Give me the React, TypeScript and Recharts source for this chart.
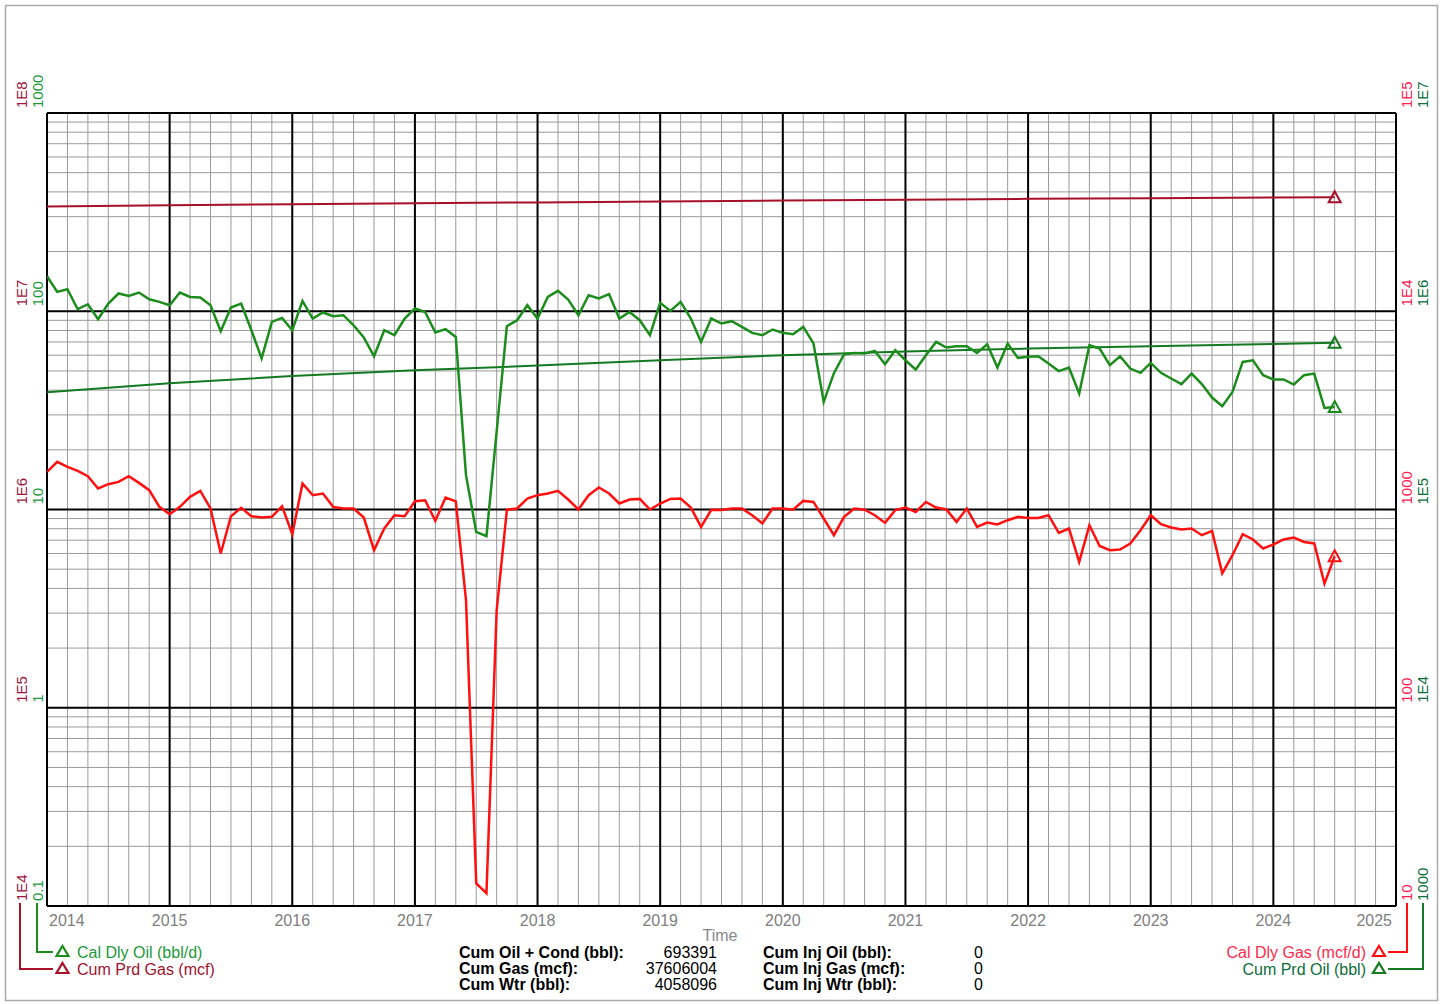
import { LineChart, Line, XAxis, YAxis, CartesianGrid } from "recharts";

// monthly rates, Jan 2014 .. Jul 2024
const oilRate = [
  150.3, 125.2, 129.2, 102.4, 108.5, 91.2, 109.4, 122.9, 119.5, 124.3,
  115.0, 111.5, 107.3, 124.3, 118.1, 117.3, 107.3, 79.3, 104.4, 109.4,
  80.2, 57.8, 88.4, 92.6, 80.2, 112.8, 91.9, 98.6, 94.4, 95.5,
  85.0, 73.7, 59.3, 80.2, 75.7, 91.9, 103.2, 99.2, 78.1, 81.2,
  74.2, 14.9, 7.71, 7.33, 24.8, 84.1, 90.1, 107.3, 91.9, 118.1,
  126.7, 114.6, 95.5, 120.5, 116.0, 121.9, 91.9, 99.2, 90.1, 75.7,
  110.2, 100.4, 111.5, 91.9, 70.0, 91.9, 86.7, 89.1, 83.4, 77.8,
  75.7, 80.9, 77.8, 76.6, 83.4, 68.8, 34.9, 48.7, 60.7, 61.6,
  61.2, 63.1, 54.1, 63.6, 56.6, 50.8, 60.0, 70.0, 65.6, 66.6,
  66.6, 61.6, 68.2, 52.0, 68.8, 58.2, 58.9, 59.3, 54.5, 49.9,
  52.0, 38.5, 67.4, 64.9, 53.5, 59.3, 51.4, 48.9, 54.9, 48.9,
  45.8, 42.9, 48.5, 42.9, 36.7, 33.2, 39.2, 55.5, 56.6, 47.6,
  45.3, 45.3, 42.7, 47.6, 48.5, 32.5, 32.9,
];

const gasRate = [
  1548, 1739, 1640, 1566, 1472, 1276, 1342, 1378, 1472, 1362,
  1251, 1031, 947, 1031, 1158, 1241, 1012, 600, 925, 1019,
  925, 911, 918, 1039, 751, 1352, 1181, 1204, 1031, 1012,
  1012, 911, 623, 802, 936, 925, 1101, 1114, 876, 1150,
  1100, 349, 13.0, 11.6, 310, 997, 1012, 1136, 1181, 1204,
  1241, 1123, 1000, 1181, 1291, 1204, 1072, 1123, 1131, 1000,
  1072, 1131, 1136, 1023, 817, 997, 993, 1012, 1012, 936,
  850, 1012, 1012, 997, 1105, 1092, 901, 742, 918, 1012,
  997, 936, 856, 993, 1023, 972, 1092, 1023, 1000, 866,
  1012, 817, 860, 840, 883, 918, 907, 907, 936, 762,
  802, 544, 833, 655, 623, 628, 674, 786, 936, 843,
  811, 793, 802, 742, 780, 476, 588, 751, 706, 636,
  666, 706, 722, 686, 674, 423, 581,
];

// cumulative readings at year starts + last month
const cumYears = [2014, 2015, 2016, 2017, 2018, 2019, 2020, 2021, 2022, 2023, 2024, 2024.5];
const cumOil = [390e3, 433e3, 471e3, 504e3, 532e3, 566e3, 600e3, 626e3, 648e3, 666e3, 684e3, 693391];
const cumGas = [33.8e6, 34.3e6, 34.7e6, 35.1e6, 35.4e6, 35.8e6, 36.2e6, 36.55e6, 36.9e6, 37.2e6, 37.45e6, 37606004];

const years = [2014, 2015, 2016, 2017, 2018, 2019, 2020, 2021, 2022, 2023, 2024, 2025];
const oilTicks = [0.1, 1, 10, 100, 1000];
const cumGasTicks = [1e4, 1e5, 1e6, 1e7, 1e8];
const gasTicks = [10, 100, 1000, 1e4, 1e5];
const cumOilTicks = [1e3, 1e4, 1e5, 1e6, 1e7];

const statsLeft = [
  ["Cum Oil + Cond (bbl):", "693391"],
  ["Cum Gas (mcf):", "37606004"],
  ["Cum Wtr (bbl):", "4058096"],
];
const statsRight = [
  ["Cum Inj Oil (bbl):", "0"],
  ["Cum Inj Gas (mcf):", "0"],
  ["Cum Inj Wtr (bbl):", "0"],
];

const C_OIL = "#1c8c1c";
const C_CUMOIL = "#137a22";
const C_GAS = "#ff1010";
const C_CUMGAS = "#a8102a";
const FONT = "'Liberation Sans', Arial, sans-serif";

const monthT = (i: number) => 2014 + i / 12;
const oilData = oilRate.map((v, i) => ({ t: monthT(i), v }));
const gasData = gasRate.map((v, i) => ({ t: monthT(i), v }));
const cumOilData = cumYears.map((t, i) => ({ t, v: cumOil[i] }));
const cumGasData = cumYears.map((t, i) => ({ t, v: cumGas[i] }));

const minorX: number[] = [];
for (let k = 0; k <= 66; k++) minorX.push(2014 + k / 6);
const minorY: number[] = [];
oilTicks.forEach((d) => {
  if (d >= 1000) return;
  for (let j = 2; j <= 9; j++) minorY.push(d * j);
});

const fmt = (v: number) => (v >= 1e4 ? `1E${Math.round(Math.log10(v))}` : String(v));

const rotTick = (x0: number, color: string) => (p: any) => {
  const y = p.y - 5;
  return (
    <text
      key={`t${p.index}`}
      x={x0}
      y={y}
      transform={`rotate(-90 ${x0} ${y})`}
      textAnchor="start"
      fill={color}
      fontSize={15}
      fontFamily={FONT}
    >
      {fmt(p.payload.value)}
    </text>
  );
};

const yearTick = (p: any) => {
  const v = p.payload.value;
  const anchor = v === 2014 ? "start" : v === 2025 ? "end" : "middle";
  const dx = v === 2014 ? 2 : v === 2025 ? -4 : 0;
  return (
    <text key={`y${v}`} x={p.x + dx} y={926} textAnchor={anchor} fill="#808080" fontSize={16} fontFamily={FONT}>
      {v}
    </text>
  );
};

const endTriangle = (color: string, last: number) => (p: any) => {
  const { cx, cy, index } = p;
  if (index !== last || cx == null) return <g key={`d${index}`} />;
  return (
    <path
      key={`d${index}`}
      d={`M${cx} ${cy - 6} L${cx + 6} ${cy + 5} L${cx - 6} ${cy + 5} Z`}
      fill="none"
      stroke={color}
      strokeWidth={2}
    />
  );
};

const tri = (x: number, y: number, color: string) => (
  <path d={`M${x} ${y - 6} L${x + 6} ${y + 4} L${x - 6} ${y + 4} Z`} fill="none" stroke={color} strokeWidth={2.2} />
);

export default function App() {
  return (
    <div style={{ position: "absolute", left: 0, top: 0, width: 1445, height: 1004, background: "#fff", fontFamily: FONT }}>
      <LineChart width={1445} height={1004} margin={{ top: 113, right: 17, bottom: 68, left: 10 }}>
        <XAxis
          type="number"
          dataKey="t"
          domain={[2014, 2025]}
          allowDataOverflow
          ticks={years}
          interval={0}
          height={30}
          axisLine={false}
          tickLine={false}
          tick={yearTick}
        />
        <YAxis yAxisId="oil" type="number" scale="log" domain={[0.1, 1000]} allowDataOverflow ticks={oilTicks} interval={0} width={20} axisLine={false} tickLine={false} tick={rotTick(43, "#1a9a3a")} />
        <YAxis yAxisId="cumGas" type="number" scale="log" domain={[1e4, 1e8]} allowDataOverflow ticks={cumGasTicks} interval={0} width={17} axisLine={false} tickLine={false} tick={rotTick(27, "#a0143c")} />
        <YAxis yAxisId="gas" orientation="right" type="number" scale="log" domain={[10, 1e5]} allowDataOverflow ticks={gasTicks} interval={0} width={16} axisLine={false} tickLine={false} tick={rotTick(1412, "#ff2050")} />
        <YAxis yAxisId="cumOil" orientation="right" type="number" scale="log" domain={[1e3, 1e7]} allowDataOverflow ticks={cumOilTicks} interval={0} width={16} axisLine={false} tickLine={false} tick={rotTick(1428, "#0d6e3a")} />
        <CartesianGrid yAxisId="oil" horizontalValues={minorY} verticalValues={minorX} stroke="#9a9a9a" strokeWidth={1} />
        <CartesianGrid yAxisId="oil" horizontalValues={oilTicks} verticalValues={years} stroke="#000" strokeWidth={2} />
        <Line yAxisId="cumGas" data={cumGasData} dataKey="v" stroke={C_CUMGAS} strokeWidth={2} dot={endTriangle(C_CUMGAS, cumGasData.length - 1)} isAnimationActive={false} />
        <Line yAxisId="cumOil" data={cumOilData} dataKey="v" stroke={C_CUMOIL} strokeWidth={2} dot={endTriangle(C_CUMOIL, cumOilData.length - 1)} isAnimationActive={false} />
        <Line yAxisId="oil" data={oilData} dataKey="v" stroke={C_OIL} strokeWidth={2.5} dot={endTriangle(C_OIL, oilData.length - 1)} isAnimationActive={false} />
        <Line yAxisId="gas" data={gasData} dataKey="v" stroke={C_GAS} strokeWidth={2.5} dot={endTriangle(C_GAS, gasData.length - 1)} isAnimationActive={false} />
      </LineChart>
      <svg width={1445} height={1004} style={{ position: "absolute", left: 0, top: 0, pointerEvents: "none" }} fontFamily={FONT}>
        <rect x={5.5} y={5.5} width={1432} height={995} fill="none" stroke="#aaa" strokeWidth={1.5} />
        <text x={720} y={941} textAnchor="middle" fill="#888" fontSize={16}>Time</text>
        <path d="M20 903 V969 H53" fill="none" stroke={C_CUMGAS} strokeWidth={2} />
        <path d="M37 903 V952 H53" fill="none" stroke={C_OIL} strokeWidth={2} />
        {tri(62.5, 952, C_OIL)}
        {tri(62.5, 969, C_CUMGAS)}
        <text x={77} y={958} fill="#1a9a3a" fontSize={16}>Cal Dly Oil (bbl/d)</text>
        <text x={77} y={975} fill="#a0122e" fontSize={16}>Cum Prd Gas (mcf)</text>
        <path d="M1407 903 V952 H1388" fill="none" stroke={C_GAS} strokeWidth={2} />
        <path d="M1423 903 V969 H1388" fill="none" stroke={C_CUMOIL} strokeWidth={2} />
        {tri(1379, 952, C_GAS)}
        {tri(1379, 969, C_CUMOIL)}
        <text x={1366} y={958} textAnchor="end" fill="#ff2a4a" fontSize={16}>Cal Dly Gas (mcf/d)</text>
        <text x={1366} y={975} textAnchor="end" fill="#0d6e3a" fontSize={16}>Cum Prd Oil (bbl)</text>
        {statsLeft.map(([label, val], i) => (
          <g key={label}>
            <text x={459} y={958 + i * 16} fontSize={16} fontWeight="bold" fill="#000">{label}</text>
            <text x={717} y={958 + i * 16} fontSize={16} textAnchor="end" fill="#000">{val}</text>
          </g>
        ))}
        {statsRight.map(([label, val], i) => (
          <g key={label}>
            <text x={763} y={958 + i * 16} fontSize={16} fontWeight="bold" fill="#000">{label}</text>
            <text x={983} y={958 + i * 16} fontSize={16} textAnchor="end" fill="#000">{val}</text>
          </g>
        ))}
      </svg>
    </div>
  );
}
